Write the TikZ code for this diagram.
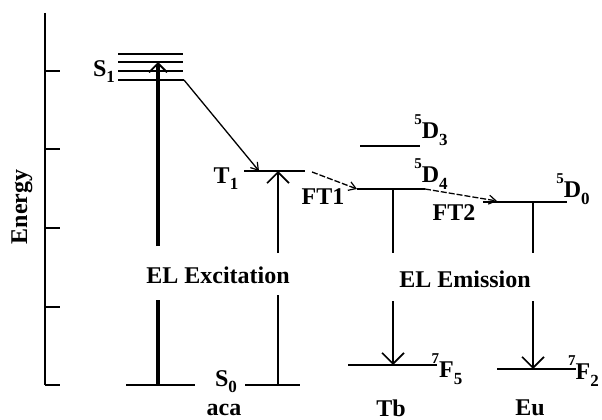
\documentclass[tikz,border=0pt]{standalone}
\usepackage{fontspec}
\setmainfont{Liberation Serif}
\usetikzlibrary{arrows.meta}
\newcommand{\levlab}[3]{\raisebox{0.6em}{\fontsize{15}{15}\selectfont #1}#2\raisebox{-0.3em}{\fontsize{17}{17}\selectfont #3}}
\newcommand{\sublab}[2]{#1\raisebox{-0.25em}{\fontsize{17}{17}\selectfont #2}}
\begin{document}
\begin{tikzpicture}[x=1pt,y=-1pt,
  lbl/.style={font=\fontsize{24}{26}\selectfont\bfseries, inner sep=0pt},
  axisline/.style={line width=1.8pt},
  lvl/.style={line width=1.8pt},
  bigarrow/.style={line width=3.5pt,-{Straight Barb[length=9pt,width=18pt,line width=1.8pt]}},
  midarrow/.style={line width=2pt,-{Straight Barb[length=11pt,width=22pt,line width=1.6pt]}},
  downarrow/.style={line width=1.6pt,-{Straight Barb[length=11pt,width=22pt,line width=1.6pt]}},
  plain/.style={line width=1.6pt},
  diag/.style={line width=1.3pt,-{Straight Barb[length=7pt,width=9pt,line width=1.2pt]}},
  ftarrow/.style={line width=1.3pt,dash pattern=on 6pt off 2pt,-{Straight Barb[length=7pt,width=9pt,line width=1.2pt]}}]
\useasboundingbox (0,0) rectangle (602,420);
\clip (0,0) rectangle (602,420);
% axis
\coordinate (axtop) at (45,13);
\coordinate (axbot) at (45,385);
\draw[axisline] (axtop) -- (axbot);
\foreach \yy in {71,149,228,307,385} \draw[axisline] (45,\yy) -- (60,\yy);
\node[lbl, rotate=90] (energy) at (22,207) {Energy};
% S1 levels
\foreach \yy in {54,62,71} \draw[lvl] (118,\yy) -- (183,\yy);
\coordinate (s1l) at (118,80);
\coordinate (s1r) at (184,80);
\draw[lvl] (s1l) -- (s1r);
\node[lbl] (s1) at (104,72) {\sublab{S}{1}};
% T1
\coordinate (t1l) at (244,171);
\coordinate (t1r) at (305,171);
\draw[lvl] (t1l) -- (t1r);
\node[lbl] (t1) at (226,179) {\sublab{T}{1}};
% S0
\coordinate (s0a) at (126,385);
\coordinate (s0b) at (195,385);
\coordinate (s0c) at (245,385);
\coordinate (s0d) at (300,385);
\draw[lvl] (s0a) -- (s0b);
\draw[lvl] (s0c) -- (s0d);
\node[lbl] (s0) at (226,382) {\sublab{S}{0}};
\node[lbl] (aca) at (224,410) {aca};
% excitation
\node[lbl] (exc) at (218,275) {EL Excitation};
\coordinate (e1a) at (158,385);
\coordinate (e1b) at (158,300);
\coordinate (e1c) at (158,246);
\coordinate (e1d) at (158,62);
\draw[line width=3.5pt] (e1a) -- (e1b);
\draw[bigarrow] (e1c) -- (e1d);
\coordinate (e2a) at (278,385);
\coordinate (e2b) at (278,295);
\coordinate (e2c) at (278,253);
\coordinate (e2d) at (278,171);
\draw[line width=2pt] (e2a) -- (e2b);
\draw[midarrow] (e2c) -- (e2d);
% S1 -> T1
\coordinate (t1tip) at (259,171);
\draw[diag] (s1r) -- (t1tip);
% Tb levels
\draw[lvl] (360,146) -- (420,146);
\node[lbl] (d3) at (431,130) {\levlab{5}{D}{3}};
\coordinate (d4l) at (357,189);
\coordinate (d4r) at (425,189);
\draw[lvl] (d4l) -- (d4r);
\node[lbl] (d4) at (431,174) {\levlab{5}{D}{4}};
\coordinate (ft1s) at (312,172);
\draw[ftarrow] (ft1s) -- (d4l);
\node[lbl] (ft1) at (323,197) {FT1};
\coordinate (f5l) at (348,365);
\coordinate (f5r) at (437,365);
\draw[lvl] (f5l) -- (f5r);
\node[lbl] (f5) at (447,369) {\levlab{7}{F}{5}};
\coordinate (tba) at (393,189);
\coordinate (tbb) at (393,253);
\coordinate (tbc) at (393,301);
\coordinate (tbd) at (393,365);
\draw[plain] (tba) -- (tbb);
\draw[downarrow] (tbc) -- (tbd);
\node[lbl] (tb) at (391,408) {Tb};
% Eu levels
\coordinate (d0l) at (483,202);
\coordinate (d0r) at (567,202);
\draw[lvl] (d0l) -- (d0r);
\node[lbl] (d0) at (573,189) {\levlab{5}{D}{0}};
\coordinate (ft2e) at (497,201);
\draw[ftarrow] (d4r) -- (ft2e);
\node[lbl] (ft2) at (454,213) {FT2};
\coordinate (f2l) at (497,369);
\coordinate (f2r) at (576,369);
\draw[lvl] (f2l) -- (f2r);
\node[lbl, anchor=west] (f2) at (568,371) {\levlab{7}{F}{2}};
\coordinate (eua) at (533,202);
\coordinate (eub) at (533,253);
\coordinate (euc) at (533,301);
\coordinate (eud) at (533,369);
\draw[plain] (eua) -- (eub);
\draw[downarrow] (euc) -- (eud);
\node[lbl] (eu) at (530,408) {Eu};
\node[lbl] (emi) at (465,279) {EL Emission};
\end{tikzpicture}
\end{document}
